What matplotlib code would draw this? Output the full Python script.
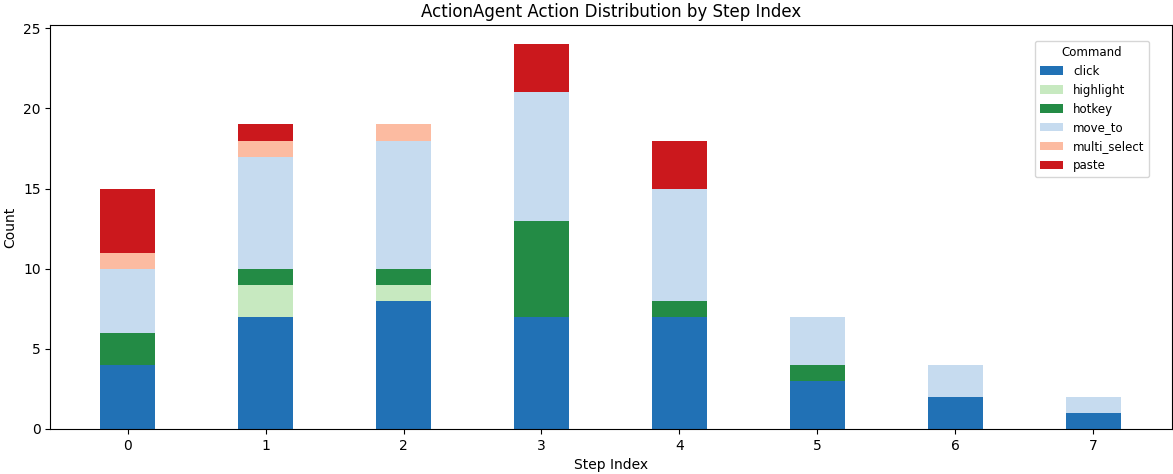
import numpy as np
import matplotlib.pyplot as plt

steps = [0, 1, 2, 3, 4, 5, 6, 7]
commands = ["click", "highlight", "hotkey", "move_to", "multi_select", "paste"]
click = [4, 7, 8, 7, 7, 3, 2, 1]
highlight = [0, 2, 1, 0, 0, 0, 0, 0]
hotkey = [2, 1, 1, 6, 1, 1, 0, 0]
move_to = [4, 7, 8, 8, 7, 3, 2, 1]
multi_select = [1, 1, 1, 0, 0, 0, 0, 0]
paste = [4, 1, 0, 3, 3, 0, 0, 0]
colors = ["#2171b5", "#c7e9c0", "#238b45", "#c6dbef", "#fcbba1", "#cb181d"]

series = [click, highlight, hotkey, move_to, multi_select, paste]

fig, ax = plt.subplots(figsize=(11.73, 4.74), dpi=100)
bottom = np.zeros(len(steps))
for name, vals, c in zip(commands, series, colors):
    ax.bar(steps, vals, width=0.4, bottom=bottom, color=c, label=name)
    bottom += np.array(vals)

ax.set_title("ActionAgent Action Distribution by Step Index")
ax.set_xlabel("Step Index")
ax.set_ylabel("Count")
ax.set_xticks(steps)
ax.set_xlim(-0.56, 7.57)
ax.set_ylim(0, 25.2)
ax.legend(title="Command", fontsize=8.5, title_fontsize=8.5,
          loc="upper right", bbox_to_anchor=(0.985, 0.975))
fig.subplots_adjust(left=0.043, right=0.999, top=0.947, bottom=0.095)
fig.savefig("out.png")
